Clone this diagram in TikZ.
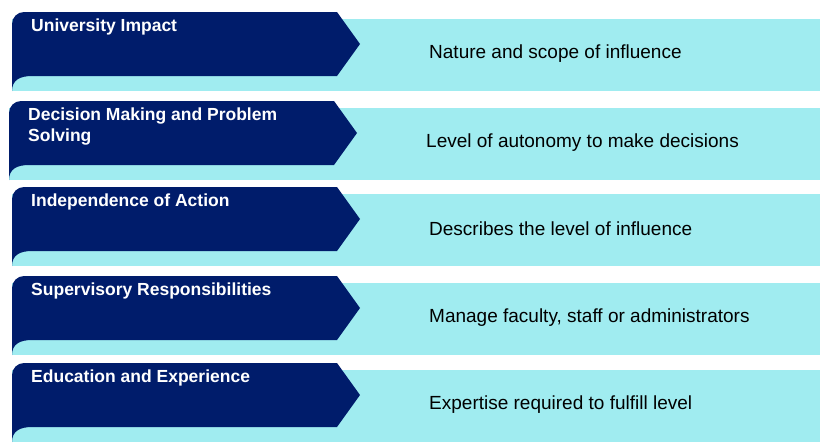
\documentclass[tikz,border=0pt]{standalone}
\usepackage{fontspec}
\setmainfont{Liberation Sans}
\usetikzlibrary{positioning}
\definecolor{tabblue}{HTML}{001C6B}
\definecolor{bandcyan}{HTML}{A0ECF0}
\tikzset{
  band/.style={fill=bandcyan,draw=none},
  tab/.style={fill=tabblue,draw=none},
  tablabel/.style={text=white,font=\fontsize{17.5}{21}\selectfont\bfseries,anchor=north west,align=left,inner sep=0pt},
  desc/.style={text=black,font=\fontsize{19}{22}\selectfont,anchor=west,inner sep=0pt}
}
\begin{document}
\begin{tikzpicture}[x=1pt,y=-1pt]
\useasboundingbox (0,0) rectangle (837,445);
\foreach \t/\dx/\lab/\txt [count=\i] in {
  12/0/{University Impact}/{Nature and scope of influence},
  101/-3/{Decision Making and Problem\\Solving}/{Level of autonomy to make decisions},
  187/0/{Independence of Action}/{Describes the level of influence},
  276/0/{Supervisory Responsibilities}/{Manage faculty, staff or administrators},
  363/0/{Education and Experience}/{Expertise required to fulfill level}} {
    % cyan band behind the tab
    \fill[band] (12+\dx,\t+7) rectangle (820,\t+79);
    % dark tab with arrow point
    \fill[tab] (12+\dx,\t+79) -- (12+\dx,\t+12) arc[start angle=180,end angle=270,radius=12]
      -- (337+\dx,\t) -- (360+\dx,\t+32) -- (337+\dx,\t+64) -- (32+\dx,\t+64)
      .. controls (20+\dx,\t+64) and (12+\dx,\t+68) .. (12+\dx,\t+79) -- cycle;
    \node[tablabel] (lab\i) at (31+\dx,\t+7) {\lab};
    \node[desc] (txt\i) at (429+\dx,\t+42) {\txt};
}
\end{tikzpicture}
\end{document}
